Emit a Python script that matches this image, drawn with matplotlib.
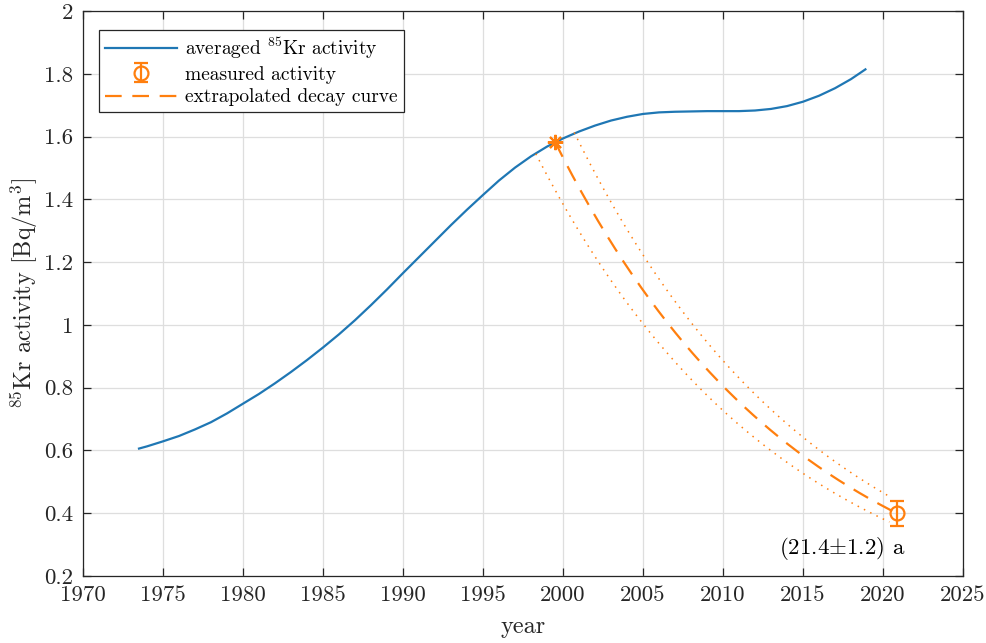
import matplotlib
matplotlib.use("Agg")
import matplotlib.pyplot as plt
import numpy as np

plt.rcParams["font.family"] = "serif"
plt.rcParams["font.serif"] = ["cmr10", "DejaVu Serif"]
plt.rcParams["mathtext.fontset"] = "cm"
plt.rcParams["axes.formatter.use_mathtext"] = True

# averaged 85Kr activity in air
years = [1973.5, 1974, 1975, 1976, 1977, 1978, 1979, 1980, 1981, 1982, 1983,
         1984, 1985, 1986, 1987, 1988, 1989, 1990, 1991, 1992, 1993, 1994,
         1995, 1996, 1997, 1998, 1999, 2000, 2001, 2002, 2003, 2004, 2005,
         2006, 2007, 2008, 2009, 2010, 2011, 2012, 2013, 2014, 2015, 2016,
         2017, 2018, 2018.9]
activity = [0.606, 0.613, 0.629, 0.646, 0.667, 0.690, 0.718, 0.749, 0.780,
            0.814, 0.850, 0.888, 0.928, 0.970, 1.015, 1.063, 1.113, 1.165,
            1.216, 1.267, 1.318, 1.367, 1.414, 1.460, 1.501, 1.537, 1.568,
            1.594, 1.616, 1.635, 1.651, 1.663, 1.672, 1.677, 1.679, 1.680,
            1.681, 1.681, 1.681, 1.683, 1.688, 1.697, 1.711, 1.730, 1.754,
            1.783, 1.814]

# measurement
t_meas = 2020.9
a_meas = 0.40
a_err = 0.04
age = 21.4
age_err = 1.2
half_life = 10.76  # a, 85Kr

# start points of the decay curves on the averaged curve
t_start = 1999.5
a_start = 1.583
t_start_lo, a_start_lo = 1998.3, 1.545
t_start_hi, a_start_hi = 2000.7, 1.613
t_end_dotted = 2020.4

blue = "#1f77b4"
orange = "#ff7f0e"
dark = "#262626"

fig = plt.figure(figsize=(9.87, 6.43), dpi=100)
ax = fig.add_axes([0.0841, 0.1042, 0.8916, 0.8787])


def decay(t0, a0, t1):
    t = np.linspace(t0, t1, 200)
    return t, a0 * 2.0 ** (-(t - t0) / half_life)


h_avg, = ax.plot(years, activity, color=blue, lw=1.6,
                 label=r"averaged $^{85}$Kr activity")

td, ad = decay(t_start, a_start, t_meas)
h_dec, = ax.plot(td, ad, color=orange, lw=1.6, linestyle=(0, (7.5, 4.8)),
                 label="extrapolated decay curve")
for t0, a0 in [(t_start_lo, a_start_lo), (t_start_hi, a_start_hi)]:
    tl, al = decay(t0, a0, t_end_dotted)
    ax.plot(tl, al, color=orange, lw=1.1, linestyle=(0, (1, 3.6)))

ax.plot([t_start], [a_start], marker=(8, 2, 0), color=orange, ms=11, mew=1.5,
        linestyle="none")

h_meas = ax.errorbar([t_meas], [a_meas], yerr=[a_err], fmt="o", color=orange,
                     mfc="none", ms=10, mew=1.6, elinewidth=1.6, capsize=5,
                     capthick=1.6, label="measured activity")

ax.text(t_meas + 0.5, a_meas - 0.07, f"({age}$\\pm${age_err}) a",
        ha="right", va="top", fontsize=16.5)

xticks = [1970, 1975, 1980, 1985, 1990, 1995, 2000, 2005, 2010, 2015, 2020, 2025]
yticks = [0.2, 0.4, 0.6, 0.8, 1.0, 1.2, 1.4, 1.6, 1.8, 2.0]
ytick_labels = ["0.2", "0.4", "0.6", "0.8", "1", "1.2", "1.4", "1.6", "1.8", "2"]

ax.set_xlim(1970, 2025)
ax.set_ylim(0.2, 2.0)
ax.set_xticks(xticks)
ax.set_xticklabels([str(x) for x in xticks])
ax.set_yticks(yticks)
ax.set_yticklabels(ytick_labels)

ax.grid(True, color="#dedede", lw=0.9)
ax.set_axisbelow(True)
for s in ax.spines.values():
    s.set_color(dark)
    s.set_linewidth(0.9)
ax.tick_params(direction="in", length=6, width=0.9, color=dark,
               top=True, right=True, labelsize=16.5, pad=7,
               labelcolor=dark)

ax.set_xlabel("year", fontsize=17.5, labelpad=8, color=dark)
ax.set_ylabel(r"$^{85}$Kr activity [Bq/m$^3$]", fontsize=17.5, labelpad=3,
              color=dark)

leg = ax.legend(handles=[h_avg, h_meas, h_dec], loc="upper left",
                bbox_to_anchor=(0.018, 0.967), fontsize=14, frameon=True,
                fancybox=False, edgecolor=dark, framealpha=1,
                handlelength=3.7, borderpad=0.3, labelspacing=0.25,
                handletextpad=0.45, borderaxespad=0)
leg.get_frame().set_linewidth(0.9)

fig.savefig("out.png", dpi=100)
